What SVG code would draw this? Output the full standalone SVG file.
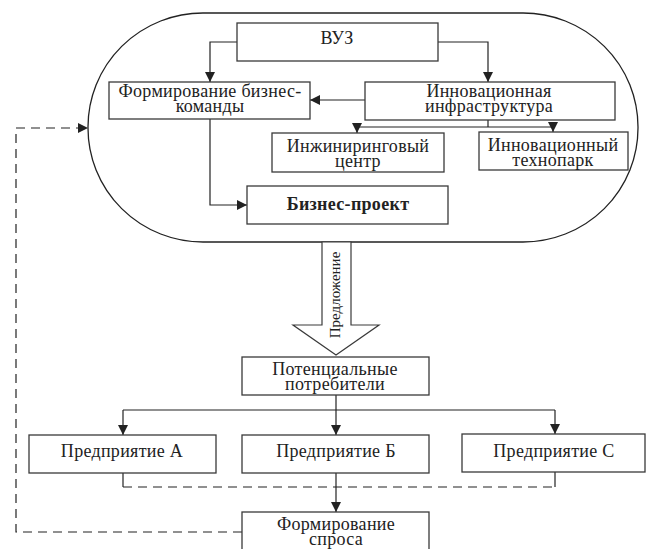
<svg xmlns="http://www.w3.org/2000/svg" width="646" height="549" viewBox="0 0 646 549">
<style>
.box{fill:#fff;stroke:#3a3a3a;stroke-width:1.3}
.t{font-family:"Liberation Serif","Times New Roman",serif;font-size:18px;letter-spacing:0.3px;fill:#222;text-anchor:middle}
.b{font-weight:bold}
.ln{fill:none;stroke:#222;stroke-width:1.2}
.dash{fill:none;stroke:#222;stroke-width:1.2;stroke-dasharray:9,6}
</style>
<defs>
<marker id="ah" viewBox="0 0 10 10" refX="10" refY="5" markerWidth="10" markerHeight="10" markerUnits="userSpaceOnUse" orient="auto">
<path d="M0,0 L10,5 L0,10 Z" fill="#222"/>
</marker>
</defs>
<rect width="646" height="549" fill="#fff"/>
<g id="container">
<rect x="88" y="13" width="550" height="229" rx="115" ry="114" fill="none" stroke="#222" stroke-width="1.3"/>
</g>
<g id="arrow-offer">
<polygon points="322,242 351,242 351,325 379,325 336,355 293,325 322,325" fill="#fff" stroke="#3a3a3a" stroke-width="1.2"/>
<text class="t" style="font-size:15px;letter-spacing:0" transform="translate(340,295) rotate(-90)">Предложение</text>
</g>
<g id="connectors">
<path class="ln" d="M237,42 H210 V82" marker-end="url(#ah)"/>
<path class="ln" d="M438,42 H488 V82" marker-end="url(#ah)"/>
<path class="ln" d="M365,100 H310" marker-end="url(#ah)"/>
<path class="ln" d="M488,120 V127"/>
<path class="ln" d="M357,127 H553"/>
<path class="ln" d="M357,127 V133" marker-end="url(#ah)"/>
<path class="ln" d="M553,127 V132" marker-end="url(#ah)"/>
<path class="ln" d="M210,119 V205 H247" marker-end="url(#ah)"/>
<path class="ln" d="M336,395 V435" marker-end="url(#ah)"/>
<path class="ln" d="M123,410 H555"/>
<path class="ln" d="M123,410 V435" marker-end="url(#ah)"/>
<path class="ln" d="M555,410 V434" marker-end="url(#ah)"/>
<path class="ln" d="M123,473 V487"/>
<path class="ln" d="M555,472 V487"/>
<path class="dash" d="M123,487 H555"/>
<path class="ln" d="M336,473 V512" marker-end="url(#ah)"/>
<path class="dash" d="M242,532 H16 V128 H88" marker-end="url(#ah)"/>
</g>
<g id="vuz">
<rect class="box" x="237" y="23" width="201" height="38"/>
<text class="t" x="337" y="44">ВУЗ</text>
</g>
<g id="team">
<rect class="box" x="109" y="82" width="201" height="37"/>
<text class="t" x="210" y="97">Формирование бизнес-</text>
<text class="t" x="210" y="112">команды</text>
</g>
<g id="infra">
<rect class="box" x="365" y="82" width="250" height="38"/>
<text class="t" x="489" y="97">Инновационная</text>
<text class="t" x="489" y="112">инфраструктура</text>
</g>
<g id="engineering">
<rect class="box" x="272" y="133" width="172" height="39"/>
<text class="t" x="358" y="152">Инжиниринговый</text>
<text class="t" x="358" y="167">центр</text>
</g>
<g id="technopark">
<rect class="box" x="479" y="132" width="149" height="38"/>
<text class="t" x="553" y="151">Инновационный</text>
<text class="t" x="553" y="166">технопарк</text>
</g>
<g id="project">
<rect class="box" x="247" y="186" width="201" height="38"/>
<text class="t b" x="348" y="210">Бизнес-проект</text>
</g>
<g id="consumers">
<rect class="box" x="242" y="357" width="187" height="38"/>
<text class="t" x="335" y="375">Потенциальные</text>
<text class="t" x="335" y="390">потребители</text>
</g>
<g id="entA">
<rect class="box" x="29" y="435" width="187" height="38"/>
<text class="t" x="122" y="457">Предприятие А</text>
</g>
<g id="entB">
<rect class="box" x="242" y="435" width="187" height="38"/>
<text class="t" x="336" y="457">Предприятие Б</text>
</g>
<g id="entC">
<rect class="box" x="462" y="434" width="183" height="38"/>
<text class="t" x="554" y="457">Предприятие С</text>
</g>
<g id="demand">
<rect class="box" x="242" y="512" width="187" height="50"/>
<text class="t" x="336" y="530">Формирование</text>
<text class="t" x="336" y="545">спроса</text>
</g>
</svg>
